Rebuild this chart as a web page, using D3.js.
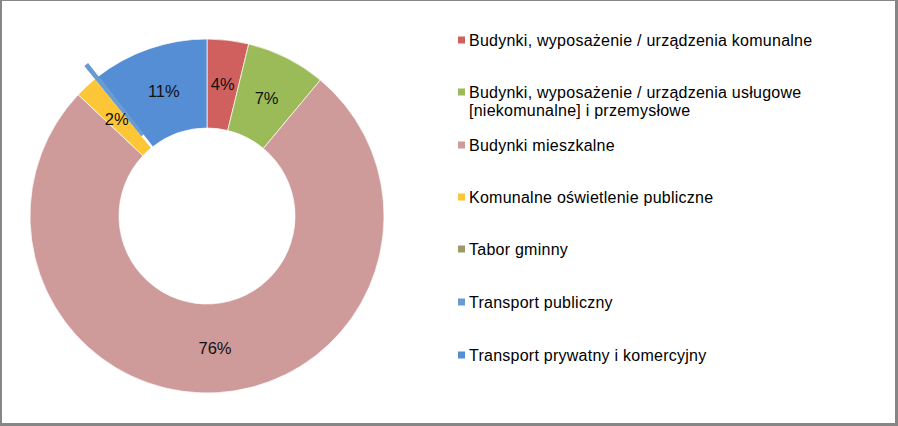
<!DOCTYPE html>
<html>
<head>
<meta charset="utf-8">
<script src="https://cdn.jsdelivr.net/npm/d3@7"></script>
<style>
  html, body { margin: 0; padding: 0; background: #fff; }
  svg { display: block; }
  text { font-family: "Liberation Sans", Arial, sans-serif; }
</style>
</head>
<body>
<svg id="chart" width="898" height="426"></svg>
<script>
const categories = [
  "Budynki, wyposażenie / urządzenia komunalne",
  "Budynki, wyposażenie / urządzenia usługowe [niekomunalne] i przemysłowe",
  "Budynki mieszkalne",
  "Komunalne oświetlenie publiczne",
  "Tabor gminny",
  "Transport publiczny",
  "Transport prywatny i komercyjny"
];
const legendLines = [
  ["Budynki, wyposażenie / urządzenia komunalne"],
  ["Budynki, wyposażenie / urządzenia usługowe", "[niekomunalne] i przemysłowe"],
  ["Budynki mieszkalne"],
  ["Komunalne oświetlenie publiczne"],
  ["Tabor gminny"],
  ["Transport publiczny"],
  ["Transport prywatny i komercyjny"]
];
const values = [3.8, 7.3, 76.2, 2.1, 0.02, 0.3, 10.6];
const labels = ["4%", "7%", "76%", "2%", "", "", "11%"];
const colors = ["#D0605E", "#9BBB59", "#CF9A9A", "#FDC636", "#9C9A6A", "#6A9BD0", "#558ED5"];
const exploded = [false, false, false, false, false, true, false];

const svg = d3.select("#chart");
const W = 898, H = 426;

// frame
svg.append("rect").attr("x", 0).attr("y", 0).attr("width", W).attr("height", H).attr("fill", "#868686");
svg.append("rect").attr("x", 2).attr("y", 1).attr("width", W - 5).attr("height", H - 4).attr("fill", "#fff");

const cx = 207, cy = 216, rOuter = 177, rInner = 88;

const pie = d3.pie().sort(null).value(d => d.v);
const data = values.map((v, i) => ({ v, i }));
const arcs = pie(data);

const arc = d3.arc().innerRadius(rInner).outerRadius(rOuter);
const labelArc = d3.arc().innerRadius((rInner + rOuter) / 2).outerRadius((rInner + rOuter) / 2);

const g = svg.append("g").attr("transform", `translate(${cx},${cy})`);

const order = arcs.slice().sort((a, b) => (exploded[a.data.i] ? 1 : 0) - (exploded[b.data.i] ? 1 : 0));
g.selectAll("path.slice").data(order).join("path")
  .attr("class", "slice")
  .attr("d", arc)
  .attr("fill", d => colors[d.data.i])
  .attr("stroke", d => exploded[d.data.i] ? colors[d.data.i] : "#fff")
  .attr("stroke-width", d => exploded[d.data.i] ? 1.5 : 0.7)
  .attr("transform", d => {
    if (!exploded[d.data.i]) return null;
    const a = (d.startAngle + d.endAngle) / 2;
    const off = 16;
    return `translate(${off * Math.sin(a)},${-off * Math.cos(a)})`;
  });

g.selectAll("text.lbl").data(arcs.filter(d => labels[d.data.i])).join("text")
  .attr("class", "lbl")
  .attr("x", d => labelArc.centroid(d)[0])
  .attr("y", d => labelArc.centroid(d)[1])
  .attr("text-anchor", "middle")
  .attr("dominant-baseline", "central")
  .attr("font-size", 16.5)
  .attr("fill", "#111")
  .text(d => labels[d.data.i]);

// legend
const legendY = [40, 92, 145, 197, 249, 302, 355];
const lg = svg.append("g");
legendLines.forEach((lines, i) => {
  lg.append("rect")
    .attr("x", 458).attr("y", legendY[i] - 3.5)
    .attr("width", 7).attr("height", 7)
    .attr("fill", colors[i]);
  lines.forEach((t, j) => {
    lg.append("text")
      .attr("x", 469).attr("y", legendY[i] + j * 18)
      .attr("dominant-baseline", "central")
      .attr("font-size", 16)
      .attr("letter-spacing", 0.25)
      .attr("fill", "#000")
      .text(t);
  });
});
</script>
</body>
</html>
